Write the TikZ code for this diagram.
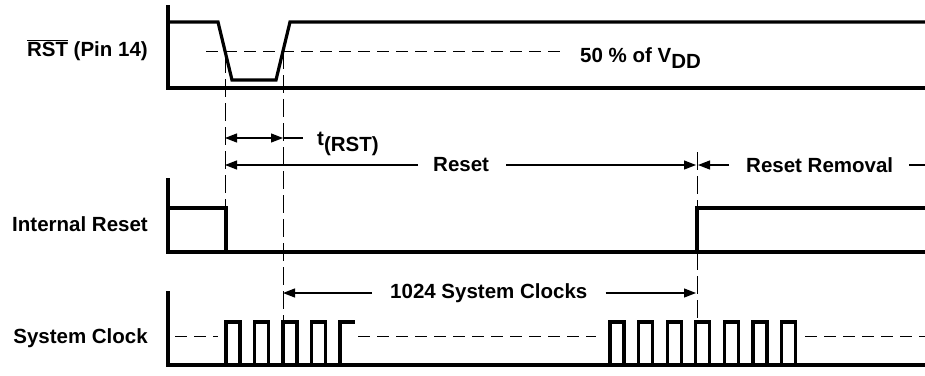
\documentclass[tikz,border=0pt]{standalone}
\usepackage{fontspec}
\setmainfont{Liberation Sans}
\usetikzlibrary{arrows.meta}
\begin{document}
\begin{tikzpicture}[x=1pt,y=-1pt,
  sig/.style={line width=3.2pt, line join=miter, line cap=rect},
  guide/.style={line width=1pt, dash pattern=on 18pt off 6pt},
  mid/.style={line width=1pt, dash pattern=on 12pt off 7pt},
  dim/.style={line width=1.2pt, -{Triangle[length=12pt,width=9pt]}},
  dimb/.style={line width=1.2pt, {Triangle[length=12pt,width=9pt]}-{Triangle[length=12pt,width=9pt]}},
  plain/.style={line width=1.2pt},
  lbl/.style={font=\fontsize{20.5}{24}\selectfont\bfseries, inner sep=0pt},
]
\useasboundingbox (0,0) rectangle (925,375);

% guide x positions
\coordinate (g1) at (225,0);
\coordinate (g2) at (283,0);
\coordinate (g3) at (697,0);

% ---- labels
\node[lbl, anchor=east] (lrst) at (148,50) {$\overline{\mbox{RST}}$ (Pin 14)};
\node[lbl, anchor=east] (lint) at (148,224) {Internal Reset};
\node[lbl, anchor=east] (lclk) at (148,338) {System Clock};

% ---- RST (Pin 14)
\draw[sig] (168,7) -- (168,88) -- (925,88);
\draw[sig] (168,22) -- (218,22) -- (232,80) -- (276,80) -- (290,22) -- (925,22);
\draw[mid] (206,51) -- (562,51);
\node[lbl, anchor=base west] (vdd) at (580,62) {50 \% of V\raisebox{-0.3em}{DD}};

% ---- Internal Reset
\draw[sig] (168,180) -- (168,252) -- (925,252);
\draw[sig] (168,208) -- (226,208) -- (226,252);
\draw[sig] (697,252) -- (697,208) -- (925,208);

% ---- System Clock
\draw[sig] (168,293) -- (168,365) -- (925,365);
\foreach \x in {226,254.5,283,311.5}
  \draw[sig] (\x,365) |- (\x+14,322) -- (\x+14,365);
\draw[sig] (340,365) |- (353,322);
\foreach \i in {0,...,6}
  \draw[sig] (610+28.6*\i,365) |- (624+28.6*\i,322) -- (624+28.6*\i,365);
\draw[mid] (175,336) -- (218,336);
\draw[mid] (358,336) -- (596,336);
\draw[mid] (805,336) -- (925,336);

% ---- vertical guides
\draw[guide] (225,55) -- (225,208);
\draw[guide] (283,51) -- (283,322);
\draw[guide] (697,152) -- (697,208);
\draw[guide] (697,252) -- (697,322);

% ---- t(RST)
\node[lbl, anchor=base west] (trst) at (317,145) {t\raisebox{-0.3em}{(RST)}};
\draw[dimb] (g1 |- 0,138) -- (g2 |- 0,138);
\draw[plain] (g2 |- 0,138) -- (303,138);

% ---- Reset
\node[lbl, anchor=west] (lreset) at (433,165) {Reset};
\draw[dim, shorten <=15pt] (lreset.west) -- (lreset.west -| g1);
\draw[dim, shorten <=17pt] (lreset.east) -- ([xshift=-1pt]lreset.east -| g3);

% ---- Reset Removal
\node[lbl, anchor=west] (lrem) at (746,165) {Reset Removal};
\draw[dim, shorten <=17pt] (lrem.west) -- ([xshift=1pt]lrem.west -| g3);
\draw[plain] ([xshift=16pt]lrem.east) -- (925,165);

% ---- 1024 System Clocks
\node[lbl, anchor=west] (l1024) at (390,293) {1024 System Clocks};
\draw[dim, shorten <=18pt] (l1024.west) -- (l1024.west -| g2);
\draw[dim, shorten <=18pt] (l1024.east) -- ([xshift=-1pt]l1024.east -| g3);
\end{tikzpicture}
\end{document}
